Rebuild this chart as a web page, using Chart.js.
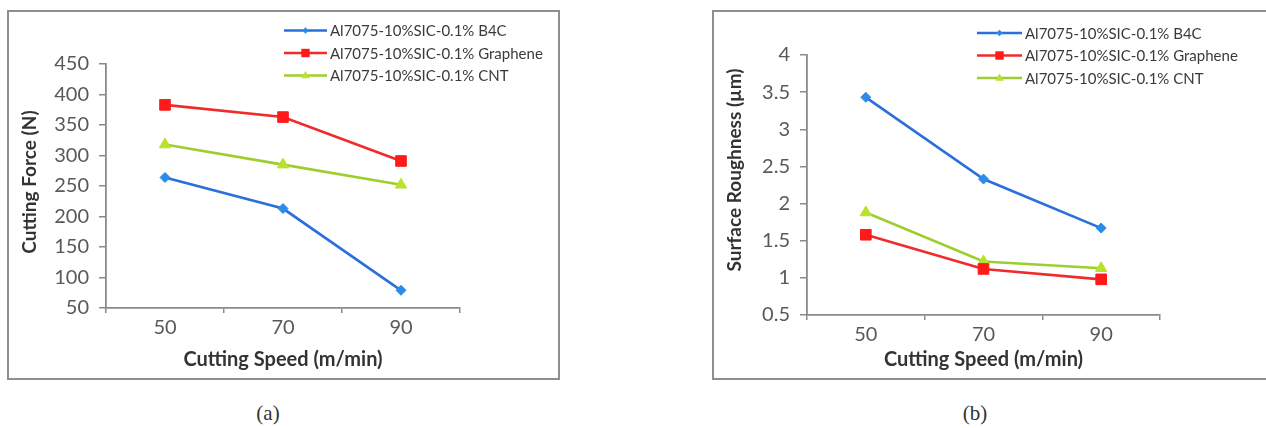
<!DOCTYPE html>
<html>
<head>
<meta charset="utf-8">
<script src="https://cdn.jsdelivr.net/npm/chart.js@4/dist/chart.umd.min.js"></script>
<style>
  html, body { margin: 0; padding: 0; background: #fff; }
  body { width: 1266px; height: 428px; position: relative; overflow: hidden; }
  .box { position: absolute; border: 2px solid #8f8f8f; background: #fff; }
  .box canvas { position: absolute; left: 0; top: 0; }
  .cap { position: absolute; width: 60px; text-align: center; font: 21px "Liberation Serif", "DejaVu Serif", serif; color: #333; }
</style>
</head>
<body>
<div class="box" id="boxA" style="left:7px; top:10px; width:549px; height:366px;">
  <canvas id="chartA" width="549" height="366"></canvas>
</div>
<div class="box" id="boxB" style="left:712px; top:10px; width:600px; height:366px;">
  <canvas id="chartB" width="552" height="366"></canvas>
</div>
<div class="cap" style="left:238px; top:401px;">(a)</div>
<div class="cap" style="left:945px; top:401px;">(b)</div>

<script>
// categories
const speeds = ["50", "70", "90"];
const seriesNames = [
  "Al7075-10%SIC-0.1% B4C",
  "Al7075-10%SIC-0.1% Graphene",
  "Al7075-10%SIC-0.1% CNT"
];

// (a) cutting force, N
const forceB4C = [264, 213, 79];
const forceGraphene = [383, 363, 291];
const forceCNT = [318, 285, 252];
const forceTicks = [50, 100, 150, 200, 250, 300, 350, 400, 450];

// (b) surface roughness, µm
const roughB4C = [3.43, 2.33, 1.67];
const roughGraphene = [1.58, 1.12, 0.98];
const roughCNT = [1.88, 1.22, 1.13];
const roughTicks = [0.5, 1, 1.5, 2, 2.5, 3, 3.5, 4];

const FONT = "Lato, 'Open Sans', sans-serif";
const lineColors = ["#2a6fdb", "#f02b2b", "#9ccf2e"];
const markColors = ["#2b8ce8", "#ff1a1a", "#b8e22c"];
const markStyles = ["rectRot", "rect", "triangle"];
const markRadius = [5, 7.5, 6.5];

function makeDatasets(values) {
  return values.map((v, i) => ({
    label: seriesNames[i],
    data: v,
    borderColor: lineColors[i],
    backgroundColor: markColors[i],
    borderWidth: 2.6,
    pointStyle: markStyles[i],
    pointRadius: markRadius[i],
    pointBorderColor: markColors[i],
    pointBorderWidth: 1,
    tension: 0
  }));
}

// little marker painter for the legend
function drawMarker(ctx, style, x, y, r, color) {
  ctx.save();
  ctx.fillStyle = color;
  ctx.beginPath();
  if (style === "rectRot") {
    ctx.moveTo(x, y - r); ctx.lineTo(x + r, y); ctx.lineTo(x, y + r); ctx.lineTo(x - r, y);
  } else if (style === "rect") {
    ctx.rect(x - r, y - r, 2 * r, 2 * r);
  } else {
    ctx.moveTo(x, y - r); ctx.lineTo(x + r * 0.95, y + r * 0.6); ctx.lineTo(x - r * 0.95, y + r * 0.6);
  }
  ctx.closePath();
  ctx.fill();
  ctx.restore();
}

// legend in the top right (overlaps plot height like the original) + y title
const extras = {
  id: "extras",
  afterDraw(chart, args, opts) {
    const ctx = chart.ctx;
    const lg = opts.legend;
    const legR = [3.2, 4.2, 4.5];
    chart.data.datasets.forEach((ds, i) => {
      const y = lg.y + i * lg.gap;
      ctx.save();
      ctx.strokeStyle = ds.borderColor;
      ctx.lineWidth = 2.6;
      ctx.beginPath();
      ctx.moveTo(lg.x, y);
      ctx.lineTo(lg.x + lg.len, y);
      ctx.stroke();
      drawMarker(ctx, ds.pointStyle, lg.x + lg.len / 2, y, legR[i], ds.backgroundColor);
      ctx.fillStyle = "#3a3a3a";
      ctx.font = "15px " + FONT;
      ctx.textBaseline = "middle";
      ctx.fillText(ds.label, lg.x + lg.len + 3, y + 1);
      ctx.restore();
    });
    // rotated y axis title
    ctx.save();
    ctx.translate(opts.yTitle.x, opts.yTitle.y);
    ctx.rotate(-Math.PI / 2);
    ctx.fillStyle = "#333";
    ctx.font = "bold 19px " + FONT;
    ctx.textAlign = "center";
    ctx.textBaseline = "middle";
    ctx.fillText(opts.yTitle.text, 0, 0);
    ctx.restore();
  }
};

function makeChart(id, values, ticks, yTitle, area, legend) {
  const canvas = document.getElementById(id);
  const w = canvas.width, h = canvas.height;
  const step = ticks[1] - ticks[0];
  return new Chart(canvas.getContext("2d"), {
    type: "line",
    data: { labels: speeds, datasets: makeDatasets(values) },
    plugins: [extras],
    options: {
      responsive: false,
      animation: false,
      layout: { padding: { left: 0, top: area.top, right: w - area.right, bottom: 0 } },
      scales: {
        x: {
          offset: true,
          grid: { offset: true, drawOnChartArea: false, color: "#8a8a8a", tickLength: 5, lineWidth: 1.5 },
          border: { color: "#8a8a8a", width: 1.8 },
          ticks: { color: "#595959", font: { family: FONT, size: 20 }, padding: 3 },
          title: { display: true, text: "Cutting Speed (m/min)", color: "#333",
                   font: { family: FONT, size: 20, weight: "bold" }, padding: { top: 0, bottom: 6 } },
          afterFit: (s) => { s.height = h - area.bottom; }
        },
        y: {
          min: ticks[0],
          max: ticks[ticks.length - 1],
          grid: { drawOnChartArea: false, color: "#8a8a8a", tickLength: 7, lineWidth: 1.5 },
          border: { color: "#8a8a8a", width: 1.8 },
          ticks: { stepSize: step, color: "#595959", font: { family: FONT, size: 20 }, padding: 10,
                   callback: (v) => String(v) },
          title: { display: false },
          afterFit: (s) => { s.width = area.left; }
        }
      },
      plugins: {
        legend: { display: false },
        tooltip: { enabled: false },
        extras: { legend: legend, yTitle: yTitle }
      }
    }
  });
}

makeChart("chartA", [forceB4C, forceGraphene, forceCNT], forceTicks,
  { text: "Cutting Force (N)", x: 21, y: 170 },
  { left: 97, right: 451, top: 52, bottom: 296 },
  { x: 275, y: 18.5, gap: 22.5, len: 43 });

makeChart("chartB", [roughB4C, roughGraphene, roughCNT], roughTicks,
  { text: "Surface Roughness (µm)", x: 21, y: 158 },
  { left: 93, right: 446, top: 43, bottom: 303 },
  { x: 263, y: 21, gap: 22.5, len: 45 });
</script>
</body>
</html>
